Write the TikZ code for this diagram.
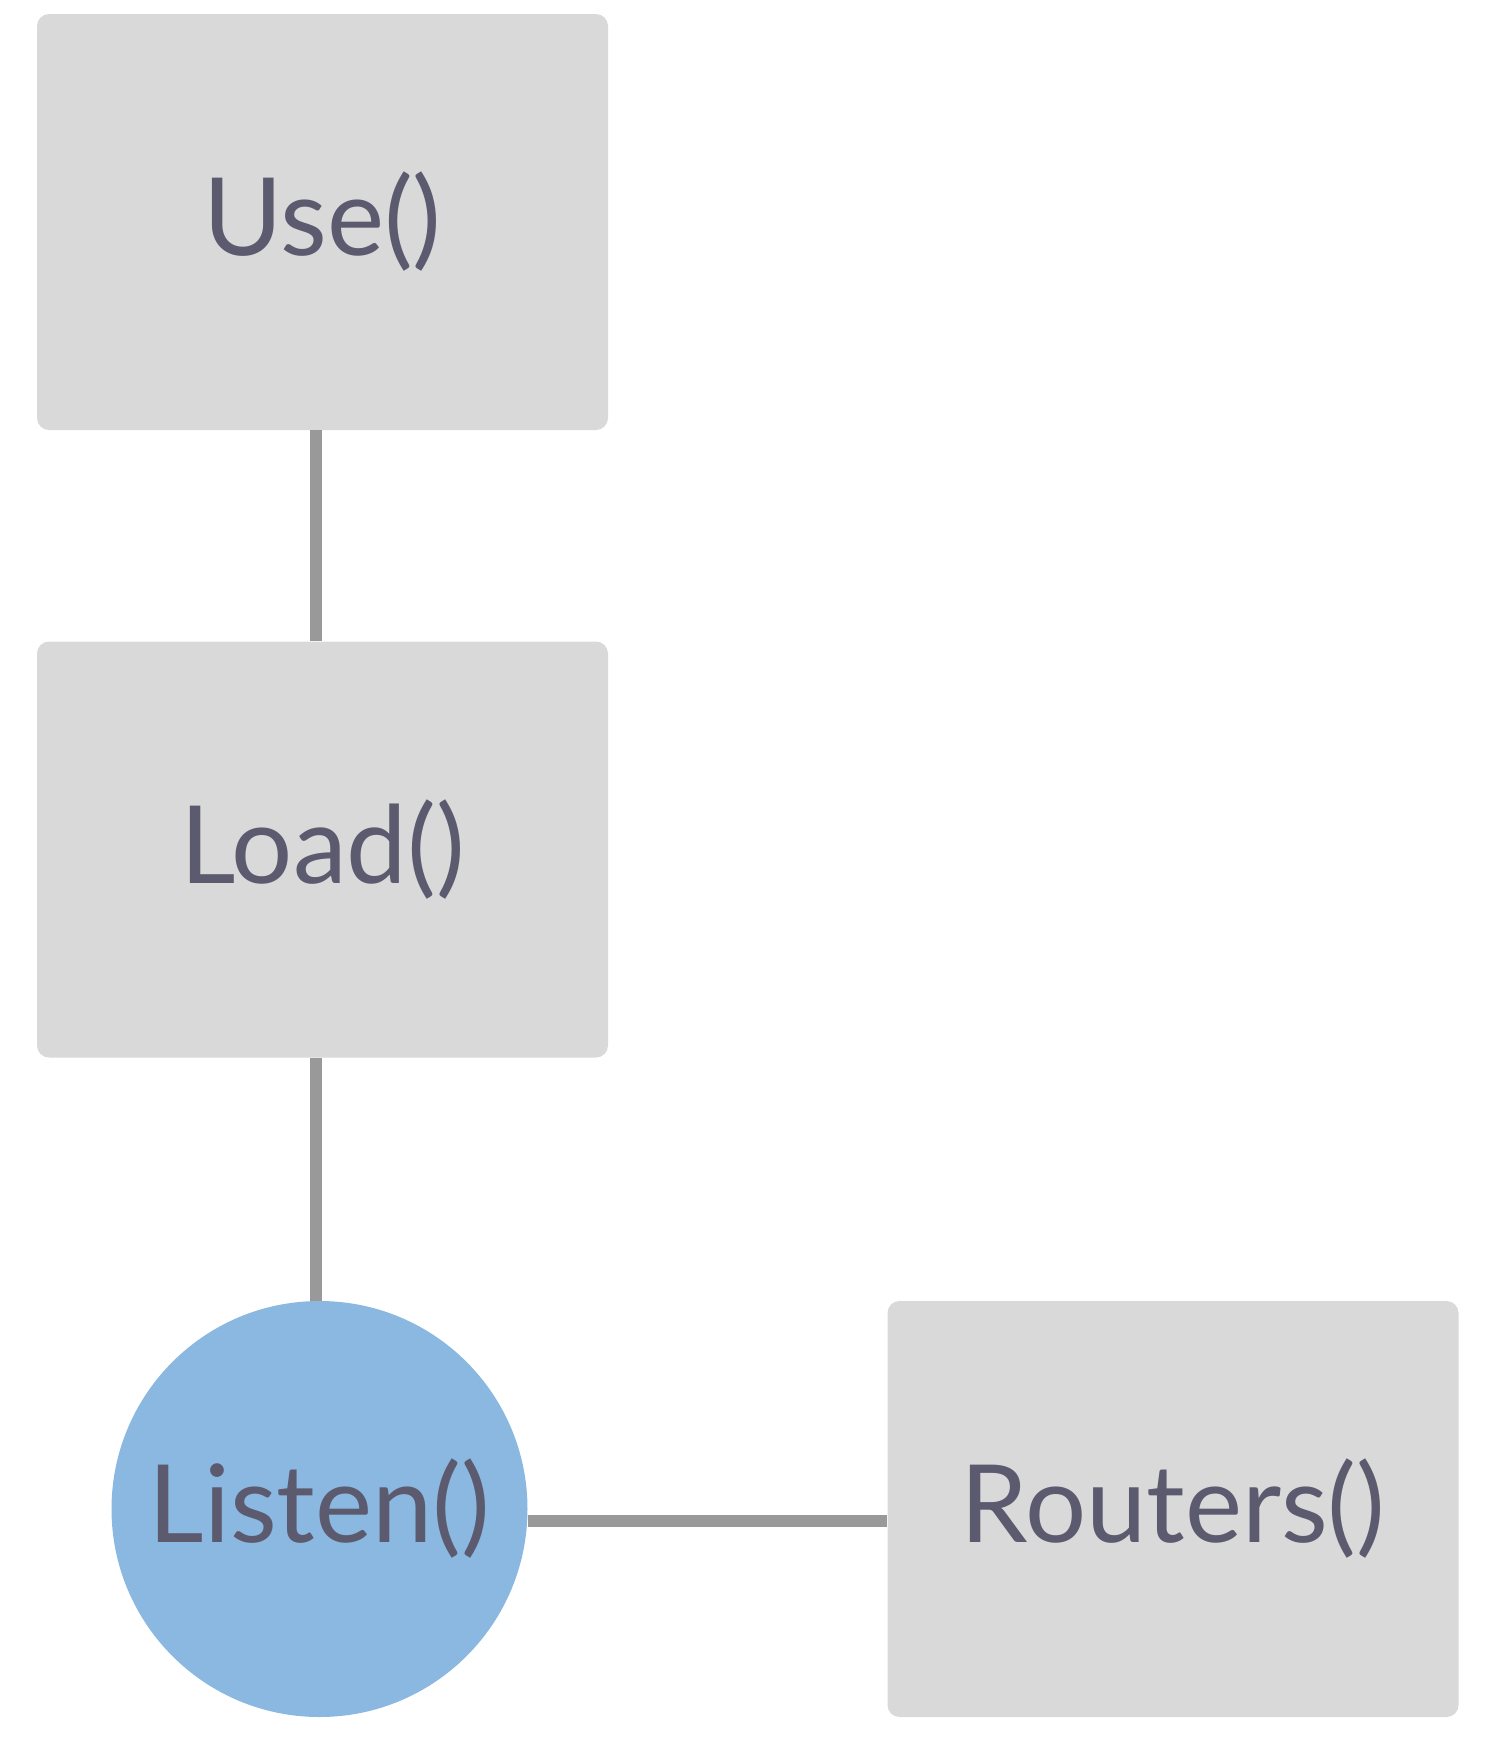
\documentclass[tikz,border=0pt]{standalone}
\usepackage{fontspec}
\setmainfont{Lato}
\usetikzlibrary{positioning}
\definecolor{boxgray}{HTML}{D9D9D9}
\definecolor{linkgray}{HTML}{999999}
\definecolor{callblue}{HTML}{8AB8E0}
\definecolor{textslate}{HTML}{5C5A6E}
\tikzset{
  callbox/.style={rectangle, rounded corners=6pt, fill=boxgray, minimum width=285.5pt, minimum height=208pt, inner sep=0pt},
  callcircle/.style={circle, fill=callblue, minimum size=208pt, inner sep=0pt},
  link/.style={line width=6pt, color=linkgray},
  every node/.append style={font=\fontsize{54}{62}\selectfont, text=textslate}
}
\begin{document}
\begin{tikzpicture}[x=0.5pt, y=-0.5pt]
\useasboundingbox (0,0) rectangle (1506,1752);
\node[callbox] (use) at (322.5,222) {Use()};
\node[callbox] (load) at (322.5,849.5) {Load()};
\node[callcircle] (listen) at (319.5,1509) {Listen()};
\node[callbox] (routers) at (1173,1509) {Routers()};
\coordinate (spine) at ([xshift=-1.75pt]listen.north);
\draw[link] (use.south -| spine) -- (load.north -| spine);
\draw[link] (load.south -| spine) -- (spine);
\draw[link] ([yshift=-6pt]listen.east) -- ([yshift=-6pt]routers.west);
\end{tikzpicture}
\end{document}
